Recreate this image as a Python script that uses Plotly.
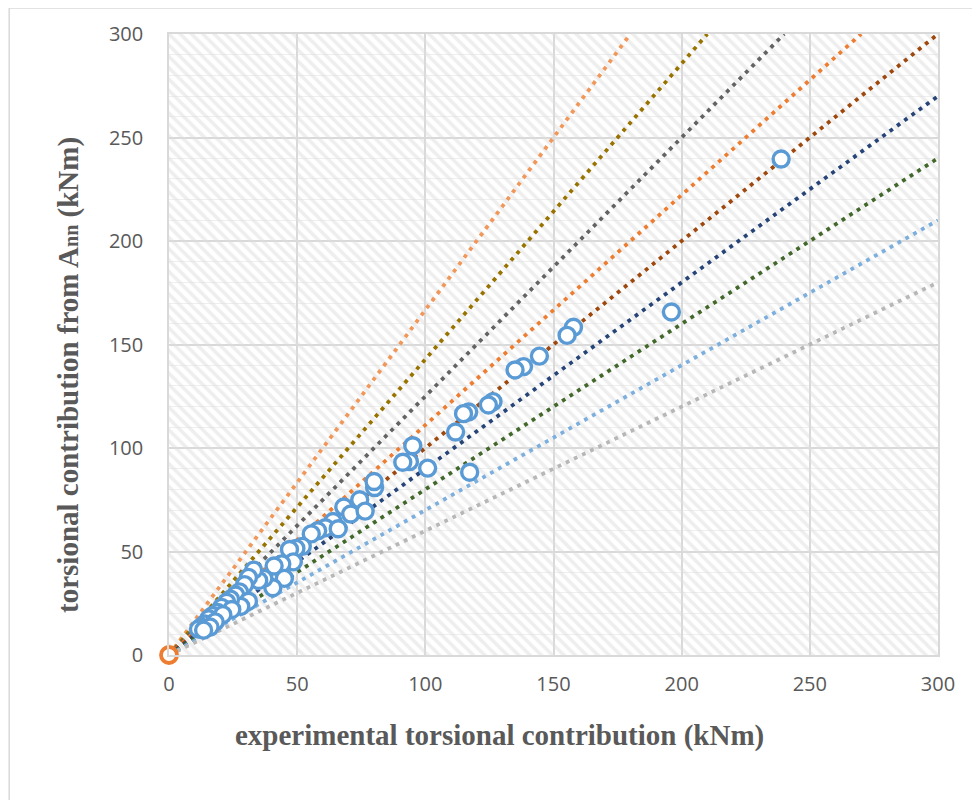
import plotly.graph_objects as go

# Measured points: experimental (x) vs ANN (y) torsional contribution, kNm
exp_x = [238.8, 196.0, 157.8, 155.3, 144.5, 138.3, 135.0, 126.4, 124.6, 116.9,
         114.9, 111.8, 95.1, 93.8, 91.2, 100.9, 117.3, 80.2, 80.0, 74.4,
         68.2, 70.9, 76.5, 64.0, 61.0, 66.0, 58.0, 55.5, 52.0, 49.5,
         47.0, 48.5, 44.0, 41.0, 45.0, 40.5, 37.0, 35.0, 33.0, 31.0,
         29.5, 27.5, 26.0, 31.0, 28.0, 24.0, 22.5, 20.5, 19.0, 17.0,
         15.5, 14.0, 12.5, 11.5, 24.5, 21.0, 18.0, 16.0, 13.5]
ann_y = [239.6, 165.7, 158.3, 154.4, 144.4, 139.3, 137.7, 122.4, 120.8, 117.4,
         116.6, 107.7, 101.1, 93.4, 93.1, 90.3, 88.3, 80.9, 83.8, 75.0,
         71.5, 68.1, 69.5, 64.5, 61.5, 61.0, 60.0, 58.5, 52.5, 51.5,
         51.0, 45.0, 44.0, 43.0, 37.0, 32.5, 37.0, 36.0, 41.0, 37.5,
         34.0, 30.5, 29.0, 26.0, 23.5, 27.0, 25.5, 23.0, 20.5, 19.0,
         17.5, 15.0, 13.5, 12.5, 22.0, 19.5, 16.0, 13.5, 12.0]

origin_x = [0]
origin_y = [0]

# Reference lines through the origin (end points)
line_end_x = [180, 210, 240, 270, 300, 300, 300, 300, 300]
line_end_y = [300, 300, 300, 300, 300, 270, 240, 210, 180]
line_colors = ["#F1975A", "#997300", "#636363", "#ED7D31", "#9E480E",
               "#264478", "#43682B", "#7CAFDD", "#B7B7B7"]

x_ticks = [0, 50, 100, 150, 200, 250, 300]
y_ticks = [0, 50, 100, 150, 200, 250, 300]

fig = go.Figure()

# hatched plot background
fig.add_trace(go.Scatter(
    x=[0, 300, 300, 0, 0], y=[0, 0, 300, 300, 0], mode="none",
    fill="toself", fillcolor="rgba(0,0,0,0)",
    fillpattern=dict(shape="\\", size=8, solidity=0.45, fgcolor="#dedede"),
    hoverinfo="skip", showlegend=False))

for ex, ey, c in zip(line_end_x, line_end_y, line_colors):
    fig.add_trace(go.Scatter(
        x=[0, ex], y=[0, ey], mode="lines",
        line=dict(color=c, width=3.8, dash="3.8px,5.2px"),
        hoverinfo="skip", showlegend=False))

fig.add_trace(go.Scatter(
    x=exp_x, y=ann_y, mode="markers",
    marker=dict(size=16, color="white", line=dict(color="#5B9BD5", width=3.4)),
    showlegend=False))

fig.add_trace(go.Scatter(
    x=origin_x, y=origin_y, mode="markers", cliponaxis=False,
    marker=dict(size=16, color="white", line=dict(color="#ED7D31", width=3.8)),
    showlegend=False))

axis_common = dict(
    range=[0, 300], showgrid=True, gridcolor="#d9d9d9", gridwidth=1.5,
    zeroline=False, showline=True, mirror=True, linecolor="#d9d9d9", linewidth=1.5,
    ticks="outside", tickcolor="rgba(0,0,0,0)",
    tickfont=dict(family="Open Sans", size=20, color="#595959"),
)

fig.update_xaxes(**axis_common, tickvals=x_ticks, ticklen=10)
fig.update_yaxes(**axis_common, tickvals=y_ticks, ticklen=20,
                 minor=dict(dtick=10, showgrid=True, gridcolor="#efefef", gridwidth=1))

title_font = dict(family="Liberation Serif", size=29, color="#595959")
fig.add_annotation(
    text="<b>experimental torsional contribution (kNm)</b>",
    xref="paper", yref="paper", x=0.43, y=-0.129, yanchor="middle",
    showarrow=False, font=title_font)
fig.add_annotation(
    text="<b>torsional contribution from A<span style='font-size:20px'>nn</span> (kNm)</b>",
    xref="paper", yref="paper", x=-0.13, y=0.451, textangle=-90,
    xanchor="center", yanchor="middle", showarrow=False, font=title_font)

# outer chart border (top and left edges visible)
fig.add_shape(type="path", xref="paper", yref="paper",
              path="M -0.2078,-0.25 L -0.2078,1.0419 L 1.08,1.0419",
              line=dict(color="#d9d9d9", width=1.5))

fig.update_layout(
    width=980, height=800,
    margin=dict(l=161, r=50, t=26, b=153),
    paper_bgcolor="white", plot_bgcolor="white",
    showlegend=False,
)

fig.write_html("out.html")
